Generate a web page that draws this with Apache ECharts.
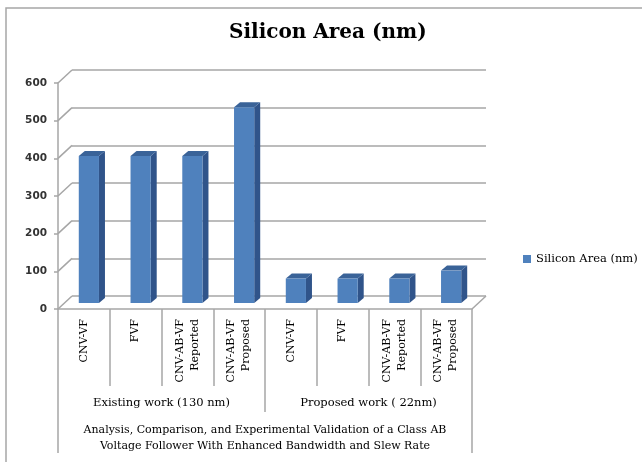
<!DOCTYPE html>
<html><head><meta charset="utf-8">
<script src="https://cdn.jsdelivr.net/npm/echarts@6/dist/echarts.min.js"></script>
<style>html,body{margin:0;padding:0;background:#fff}#c{width:642px;height:462px}</style>
</head><body><div id="c"></div>
<script>
const categories = ['CNV-VF', 'FVF', 'CNV-AB-VF\nReported', 'CNV-AB-VF\nProposed', 'CNV-VF', 'FVF', 'CNV-AB-VF\nReported', 'CNV-AB-VF\nProposed'];
const values = [390, 390, 390, 520, 65, 65, 65, 86];
const groups = ['Existing work (130 nm)', 'Proposed work ( 22nm)'];
const outerLabel = ['Analysis, Comparison, and Experimental Validation of a Class AB\nVoltage Follower With Enhanced Bandwidth and Slew Rate'];
const yTicks = [0, 100, 200, 300, 400, 500, 600];
const seriesName = 'Silicon Area (nm)';
const titleText = 'Silicon Area (nm)';

const SERIF = 'DejaVu Serif';
const GRID = '#a6a6a6';
const DEPTH_X = 14, DEPTH_Y = -13;

const chart = echarts.init(document.getElementById('c'), null, {renderer: 'canvas'});

function renderBar(params, api) {
  const i = api.value(0), v = api.value(1);
  const base = api.coord([i, 0]);
  const top = api.coord([i, v]);
  const band = api.size([1, 0])[0];
  const w = band * 0.39;
  const ox = 5, oy = -6;
  const dx = 6, dy = -5;
  const x0 = base[0] + ox - w / 2, x1 = x0 + w;
  const yT = top[1] + oy, yB = base[1] + oy;
  return {
    type: 'group',
    children: [
      {type: 'polygon', shape: {points: [[x1, yT], [x1 + dx, yT + dy], [x1 + dx, yB + dy], [x1, yB]]}, style: {fill: '#30548A'}},
      {type: 'polygon', shape: {points: [[x0, yT], [x0 + dx, yT + dy], [x1 + dx, yT + dy], [x1, yT]]}, style: {fill: '#3A6398'}},
      {type: 'rect', shape: {x: x0, y: yT, width: w, height: yB - yT}, style: {fill: '#4F81BD'}}
    ]
  };
}

function renderDiag(params, api) {
  const v = api.value(1);
  const p = api.coord([0, v]);
  const cs = params.coordSys;
  const kids = [{type: 'line', shape: {x1: cs.x, y1: p[1], x2: cs.x + DEPTH_X, y2: p[1] + DEPTH_Y}, style: {stroke: GRID, lineWidth: 1.5}}];
  if (v === 0) {
    kids.push({type: 'line', shape: {x1: cs.x + cs.width, y1: p[1], x2: cs.x + cs.width + DEPTH_X, y2: p[1] + DEPTH_Y}, style: {stroke: GRID, lineWidth: 1.5}});
  }
  return {type: 'group', children: kids};
}

const option = {
  animation: false,
  backgroundColor: '#fff',
  title: {
    text: titleText, left: 229, top: 23, padding: 0,
    textStyle: {fontFamily: SERIF, fontWeight: 'bold', fontSize: 20, color: '#000'}
  },
  legend: {
    data: [seriesName], left: 518, top: 248, icon: 'rect', itemWidth: 8, itemHeight: 8, itemGap: 4,
    textStyle: {fontFamily: SERIF, fontSize: 11.5, color: '#000'}
  },
  graphic: [{type: 'rect', z: -10, shape: {x: 6, y: 8, width: 700, height: 520}, style: {fill: 'none', stroke: '#a6a6a6', lineWidth: 1.5}}],
  grid: [
    {left: 58, right: 170, top: 83, bottom: 153},
    {left: 72, right: 156, top: 70, bottom: 166}
  ],
  xAxis: [
    {type: 'category', gridIndex: 0, data: categories, position: 'bottom',
     axisLine: {show: true, lineStyle: {color: GRID, width: 1.5}},
     axisTick: {show: true, interval: 0, length: 77, lineStyle: {color: GRID, width: 1.5}},
     axisLabel: {interval: 0, rotate: 90, margin: 10, fontFamily: SERIF, fontSize: 11, lineHeight: 15, color: '#000'},
     splitLine: {show: false}},
    {type: 'category', gridIndex: 0, data: groups, position: 'bottom',
     axisLine: {show: false},
     axisTick: {show: true, interval: 0, length: 103, lineStyle: {color: GRID, width: 1.5}},
     axisLabel: {interval: 0, margin: 88, fontFamily: SERIF, fontSize: 11.5, color: '#000'},
     splitLine: {show: false}},
    {type: 'category', gridIndex: 0, data: outerLabel, position: 'bottom',
     axisLine: {show: false},
     axisTick: {show: true, interval: 0, length: 144, lineStyle: {color: GRID, width: 1.5}},
     axisLabel: {interval: 0, margin: 113, fontFamily: SERIF, fontSize: 11, lineHeight: 16, color: '#000'},
     splitLine: {show: false}},
    {type: 'value', gridIndex: 1, min: 0, max: 1,
     axisLine: {show: false}, axisTick: {show: false}, axisLabel: {show: false}, splitLine: {show: false}}
  ],
  yAxis: [
    {type: 'value', gridIndex: 0, min: 0, max: 600, interval: 100,
     axisLine: {show: true, lineStyle: {color: GRID, width: 1.5}},
     axisTick: {show: true, length: 4, lineStyle: {color: GRID, width: 1.5}},
     axisLabel: {margin: 11, fontFamily: 'DejaVu Sans', fontWeight: 'bold', fontSize: 10.5, color: '#333'},
     splitLine: {show: false}},
    {type: 'value', gridIndex: 1, min: 0, max: 600, interval: 100,
     axisLine: {show: false}, axisTick: {show: false}, axisLabel: {show: false},
     splitLine: {show: true, lineStyle: {color: GRID, width: 1.5}}}
  ],
  series: [
    {name: 'diag', type: 'custom', xAxisIndex: 0, yAxisIndex: 0, silent: true, z: 1,
     renderItem: renderDiag, data: yTicks.map(v => [0, v])},
    {name: seriesName, type: 'custom', xAxisIndex: 0, yAxisIndex: 0, z: 5,
     itemStyle: {color: '#4F81BD'},
     renderItem: renderBar, data: values.map((v, i) => [i, v])}
  ]
};
chart.setOption(option);
</script>
</body></html>
